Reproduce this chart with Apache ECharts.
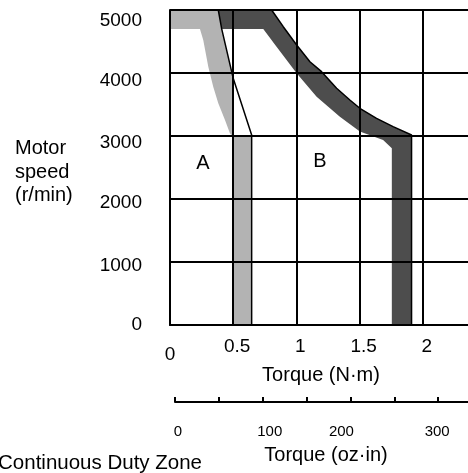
<!DOCTYPE html>
<html>
<head>
<meta charset="utf-8">
<script src="https://cdn.jsdelivr.net/npm/echarts@6/dist/echarts.min.js"></script>
<style>
html,body{margin:0;padding:0;background:#fff;}
#chart{width:468px;height:473px;}
</style>
</head>
<body>
<div id="chart"></div>
<script>
// Zone A (continuous duty): outer (black edge) and inner boundaries, [torque N·m, speed r/min]
const zoneAOuterTorque = [0.382, 0.409, 0.50, 0.646, 0.646];
const zoneAOuterSpeed  = [5000, 4700, 3915, 3016, 0];
const zoneAInnerTorque = [0, 0.237, 0.263, 0.303, 0.342, 0.382, 0.435, 0.474, 0.50, 0.50];
const zoneAInnerSpeed  = [4700, 4700, 4523, 4099, 3782, 3518, 3254, 3043, 2980, 0];
// Zone B boundaries
const zoneBOuterTorque = [0.804, 0.896, 1.002, 1.107, 1.199, 1.318, 1.423, 1.502, 1.634, 1.765, 1.911, 1.911];
const zoneBOuterSpeed  = [5000, 4735, 4444, 4179, 4021, 3757, 3571, 3440, 3281, 3148, 3016, 0];
const zoneBInnerTorque = [0.738, 0.843, 1.002, 1.16, 1.344, 1.502, 1.686, 1.755, 1.755];
const zoneBInnerSpeed  = [4700, 4418, 3995, 3624, 3306, 3070, 2937, 2804, 0];

const speedTicks = [0, 1000, 2000, 3000, 4000, 5000];
const torqueNmTicks = [0, 0.5, 1, 1.5, 2];
const torqueOzTicks = [0, 100, 200, 300];

const zip = (xs, ys) => xs.map((x, i) => [x, ys[i]]);
const aOuter = zip(zoneAOuterTorque, zoneAOuterSpeed);
const aInner = zip(zoneAInnerTorque, zoneAInnerSpeed);
const bOuter = zip(zoneBOuterTorque, zoneBOuterSpeed);
const bInner = zip(zoneBInnerTorque, zoneBInnerSpeed);

// Light band: top strip + curve down to 0.5, then the vertical bar below 3000
const polyA = [[0, 5000], aOuter[0], aOuter[1], aOuter[2], [0.5, 3016], aOuter[3], aOuter[4]]
  .concat(aInner.slice().reverse());
const polyB = bOuter.concat(bInner.slice().reverse(), [aOuter[1], aOuter[0]]);

const FONT = "'Liberation Sans', Arial, Helvetica, sans-serif";

function polySeries(points, color) {
  return {
    type: 'custom',
    xAxisIndex: 0, yAxisIndex: 0,
    z: 2,
    silent: true,
    data: [[0, 0]],
    renderItem: function (params, api) {
      return {
        type: 'polygon',
        shape: { points: points.map(p => api.coord(p)) },
        style: { fill: color, stroke: null }
      };
    }
  };
}

const chart = echarts.init(document.getElementById('chart'), null, { renderer: 'canvas' });
chart.setOption({
  animation: false,
  backgroundColor: '#fff',
  grid: [
    { left: 170, top: 10, width: 316, height: 315, containLabel: false, outerBoundsMode: 'none' },
    { left: 175, top: 401, width: 307, height: 1, containLabel: false, outerBoundsMode: 'none' }
  ],
  xAxis: [
    {
      gridIndex: 0, type: 'value', min: 0, max: 2.5, interval: 0.5, z: 5,
      axisLine: { show: true, lineStyle: { color: '#000', width: 2 } },
      axisTick: { show: false },
      splitLine: { show: true, lineStyle: { color: '#000', width: 2 } },
      axisLabel: {
        margin: 12, hideOverlap: false,
        fontFamily: FONT, fontSize: 19, color: '#000',
        formatter: function (v) {
          if (torqueNmTicks.indexOf(v) < 0) return '';
          return v === 0 ? '{z|0}' : '{n|' + v + '}';
        },
        rich: {
          z: { fontFamily: FONT, fontSize: 19, color: '#000', padding: [8, 0, 0, 0] },
          n: { fontFamily: FONT, fontSize: 19, color: '#000', padding: [0, 0, 0, 8] }
        }
      }
    },
    {
      gridIndex: 1, type: 'value', min: 0, max: 350, interval: 50, z: 5,
      axisLine: { show: true, lineStyle: { color: '#000', width: 2 } },
      axisTick: { show: true, inside: true, length: 5, lineStyle: { color: '#000', width: 2 } },
      splitLine: { show: false },
      axisLabel: {
        margin: 22, interval: 1,
        fontFamily: FONT, fontSize: 15, color: '#000',
        formatter: function (v) {
          if (torqueOzTicks.indexOf(v) < 0) return '';
          if (v === 0) return '{p|0}';
          if (v === 100) return '{q|100}';
          if (v === 200) return '{r|200}';
          return '{s|' + v + '}';
        },
        rich: {
          p: { fontFamily: FONT, fontSize: 15, color: '#000', padding: [0, 0, 0, 6] },
          q: { fontFamily: FONT, fontSize: 15, color: '#000', padding: [0, 0, 0, 14] },
          r: { fontFamily: FONT, fontSize: 15, color: '#000', padding: [0, 18, 0, 0] },
          s: { fontFamily: FONT, fontSize: 15, color: '#000', padding: [0, 2, 0, 0] }
        }
      }
    }
  ],
  yAxis: [
    {
      gridIndex: 0, type: 'value', min: 0, max: 5000, interval: 1000, z: 5,
      axisLine: { show: true, lineStyle: { color: '#000', width: 2 } },
      axisTick: { show: false },
      splitLine: { show: true, lineStyle: { color: '#000', width: 2 } },
      axisLabel: {
        margin: 28,
        fontFamily: FONT, fontSize: 19, color: '#000',
        formatter: function (v) {
          if (speedTicks.indexOf(v) < 0) return '';
          if (v === 0) return '{z|0}';
          if (v >= 5000) return '{a|' + v + '}';
          if (v >= 4000) return '{b|' + v + '}';
          if (v >= 3000) return '{d|' + v + '}';
          return '{c|' + v + '}';
        },
        rich: {
          z: { fontFamily: FONT, fontSize: 19, color: '#000' },
          a: { fontFamily: FONT, fontSize: 19, color: '#000', padding: [22, 0, 0, 0] },
          b: { fontFamily: FONT, fontSize: 19, color: '#000', padding: [16, 0, 0, 0] },
          d: { fontFamily: FONT, fontSize: 19, color: '#000', padding: [14, 0, 0, 0] },
          c: { fontFamily: FONT, fontSize: 19, color: '#000', padding: [8, 0, 0, 0] }
        }
      }
    },
    { gridIndex: 1, type: 'value', show: false, min: 0, max: 1 }
  ],
  series: [
    polySeries(polyA, '#b3b3b3'),
    polySeries(polyB, '#4d4d4d'),
    {
      type: 'line', xAxisIndex: 0, yAxisIndex: 0, z: 3, silent: true,
      data: aOuter, symbol: 'none',
      lineStyle: { color: '#000', width: 1.5 }
    },
    {
      type: 'line', xAxisIndex: 0, yAxisIndex: 0, z: 3, silent: true,
      data: bOuter, symbol: 'none',
      lineStyle: { color: '#000', width: 1.5 }
    }
  ],
  graphic: [
    { type: 'text', left: 15, top: 137, style: { text: 'Motor\nspeed\n(r/min)', font: '20px ' + FONT, fill: '#000', lineHeight: 23.5 } },
    { type: 'text', x: 203, y: 163, style: { text: 'A', font: '20px ' + FONT, fill: '#000', align: 'center', verticalAlign: 'middle' } },
    { type: 'text', x: 320, y: 161, style: { text: 'B', font: '20px ' + FONT, fill: '#000', align: 'center', verticalAlign: 'middle' } },
    { type: 'text', x: 321, y: 375, style: { text: 'Torque (N·m)', font: '20px ' + FONT, fill: '#000', align: 'center', verticalAlign: 'middle' } },
    { type: 'text', x: 326, y: 455, style: { text: 'Torque (oz·in)', font: '20px ' + FONT, fill: '#000', align: 'center', verticalAlign: 'middle' } },
    { type: 'text', x: 202, y: 463, style: { text: 'Continuous Duty Zone', font: '20.5px ' + FONT, fill: '#000', align: 'right', verticalAlign: 'middle' } }
  ]
});
</script>
</body>
</html>
